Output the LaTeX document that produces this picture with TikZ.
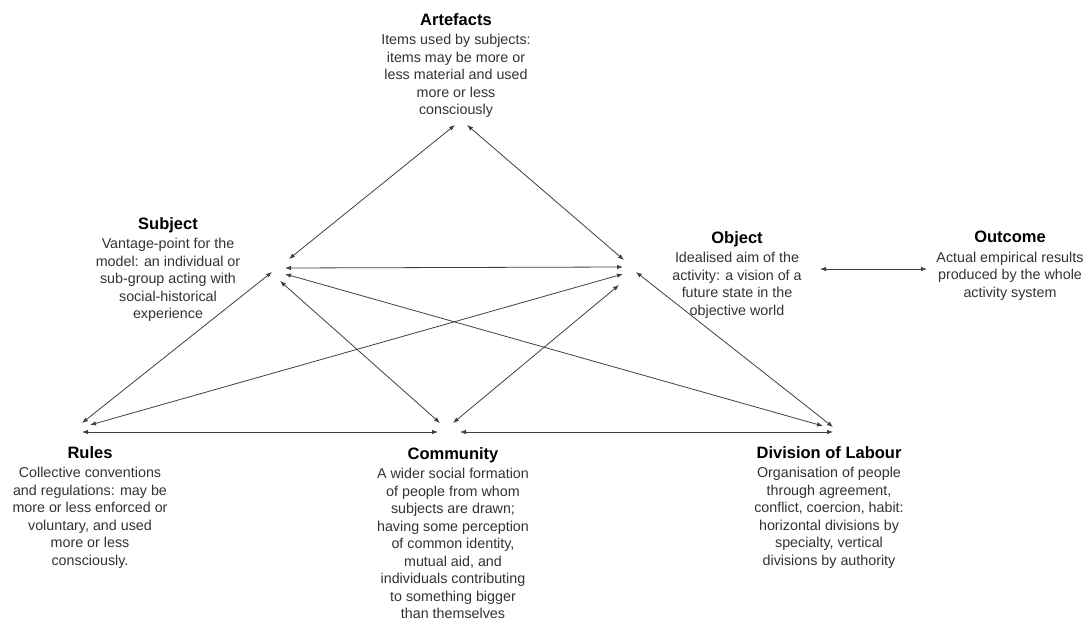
\documentclass[tikz,border=0pt]{standalone}
\usepackage{fontspec}
\setmainfont{Liberation Sans}
\usetikzlibrary{arrows.meta}
\newcommand\conceptTitle[1]{{\fontsize{16.5}{17.5}\selectfont\bfseries\color{black}#1}\\[2pt]}
\begin{document}
\begin{tikzpicture}[x=1pt,y=-1pt,
  concept/.style={anchor=north, align=center, inner sep=0pt,
    font=\fontsize{14.3}{17.5}\selectfont, text=black!80},
  link/.style={draw=black!75, line width=0.8pt,
    {Latex[length=6pt,width=4.5pt]}-{Latex[length=6pt,width=4.5pt]}},
]
\path[use as bounding box, fill=white] (0,0) rectangle (1090,621);

% concepts of the activity system
\node[concept] (artefacts) at (456,13) {\conceptTitle{Artefacts}Items used by subjects:\\items may be more or\\less material and used\\more or less\\consciously};
\node[concept] (subject) at (168,217) {\conceptTitle{Subject}Vantage-point for the\\model: an individual or\\sub-group acting with\\social-historical\\experience};
\node[concept] (object) at (737,231) {\conceptTitle{Object}Idealised aim of the\\activity: a vision of a\\future state in the\\objective world};
\node[concept] (outcome) at (1010,231) {\conceptTitle{Outcome}Actual empirical results\\produced by the whole\\activity system};
\node[concept] (rules) at (90,446) {\conceptTitle{Rules}Collective conventions\\and regulations: may be\\more or less enforced or\\voluntary, and used\\more or less\\consciously.};
\node[concept] (community) at (453,447) {\conceptTitle{Community}A wider social formation\\of people from whom\\subjects are drawn;\\having some perception\\of common identity,\\mutual aid, and\\individuals contributing\\to something bigger\\than themselves};
\node[concept] (division) at (829,446) {\conceptTitle{Division of Labour}Organisation of people\\through agreement,\\conflict, coercion, habit:\\horizontal divisions by\\specialty, vertical\\divisions by authority};

% connector ends around each concept
\coordinate (artS) at (455,125);
\coordinate (artO) at (467,125);
\coordinate (subA) at (289,259);
\coordinate (subO) at (285,268);
\coordinate (subD) at (285,274);
\coordinate (subR) at (272,272);
\coordinate (subC) at (280,281);
\coordinate (objA) at (624,260);
\coordinate (objS) at (623,267);
\coordinate (objR) at (623,274);
\coordinate (objC) at (619,285);
\coordinate (objD) at (636,272);
\coordinate (objOut) at (820,269);
\coordinate (outO) at (927,269);
\coordinate (rulS) at (82,423);
\coordinate (rulO) at (90,425);
\coordinate (rulC) at (82,432);
\coordinate (comS) at (440,423);
\coordinate (comO) at (453,423);
\coordinate (comR) at (438,432);
\coordinate (comD) at (460,432);
\coordinate (divS) at (823,426);
\coordinate (divO) at (833,427);
\coordinate (divC) at (833,432);

% relations
\draw[link] (artS) -- (subA);
\draw[link] (artO) -- (objA);
\draw[link] (subO) -- (objS);
\draw[link] (subR) -- (rulS);
\draw[link] (subC) -- (comS);
\draw[link] (subD) -- (divS);
\draw[link] (objR) -- (rulO);
\draw[link] (objC) -- (comO);
\draw[link] (objD) -- (divO);
\draw[link] (rulC) -- (comR);
\draw[link] (comD) -- (divC);
\draw[link] (objOut) -- (outO);
\end{tikzpicture}
\end{document}
